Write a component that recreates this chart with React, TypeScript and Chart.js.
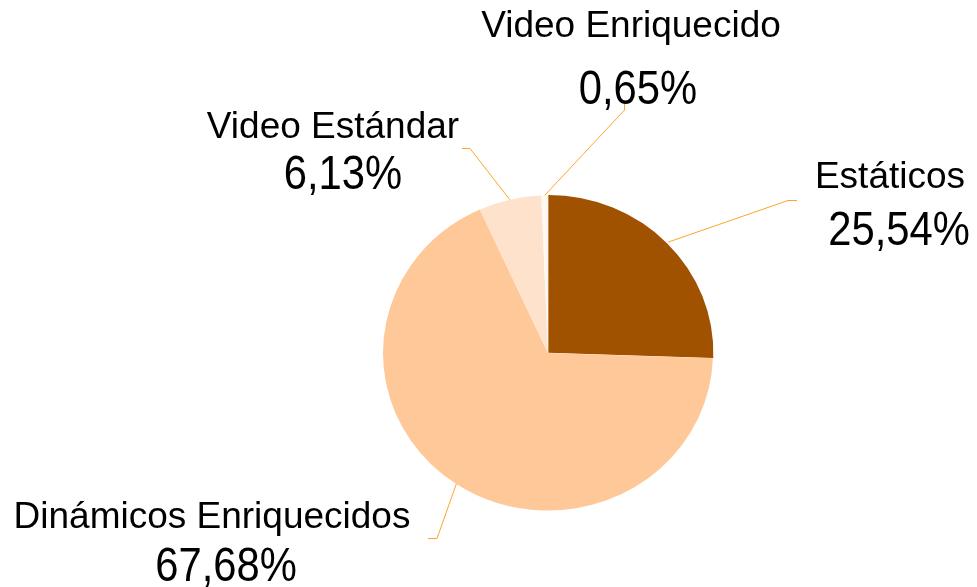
import React, { useEffect, useRef } from "react";
import { Chart, registerables } from "chart.js";

Chart.register(...registerables);

// ---- data ----
const categories = ["Estáticos", "Dinámicos Enriquecidos", "Video Estándar", "Video Enriquecido"];
const shares = [25.54, 67.68, 6.13, 0.65];

// ---- styles / layout ----
const sliceColors = ["#A05200", "#FFC899", "#FFE2CC", "#FFF7F0"];
const sliceOffsets = [2, 0, 0, 0];
const leaderColor = "#FFA42A";
const Y_SCALE = 0.955; // the reference pie is slightly squashed vertically
// per label: elbow point, line end, name centre/baseline, percentage centre/baseline
const labelLayout = [
  { elbow: [788, 200.5], end: [797, 200.5], name: [890, 188], pct: [899, 245] },
  { elbow: [437, 538.5], end: [428, 538.5], name: [212, 528], pct: [226, 581] },
  { elbow: [470, 148.5], end: [462, 148.5], name: [333, 138], pct: [343, 189] },
  { elbow: [624.5, 110], end: [624.5, 103], name: [631, 37], pct: [638, 104] },
];
const FONT = '"Liberation Sans", Arial, sans-serif';

const fmt = (v: number) => v.toFixed(2).replace(".", ",") + "%";

const labelPlugin = {
  id: "pieLabels",
  beforeDatasetsDraw(chart: any) {
    const ctx = chart.ctx;
    const a = chart.getDatasetMeta(0).data[0];
    ctx.save();
    ctx.translate(a.x, a.y);
    ctx.scale(1, Y_SCALE);
    ctx.translate(-a.x, -a.y);
  },
  afterDatasetsDraw(chart: any) {
    const ctx = chart.ctx;
    ctx.restore();
    const meta = chart.getDatasetMeta(0);
    meta.data.forEach((arc: any, i: number) => {
      const p = arc.getProps(["x", "y", "startAngle", "endAngle", "outerRadius"], true);
      const mid = (p.startAngle + p.endAngle) / 2;
      const off = sliceOffsets[i];
      const sx = p.x + Math.cos(mid) * (p.outerRadius + off);
      const sy = p.y + Math.sin(mid) * (p.outerRadius + off) * Y_SCALE;
      const L = labelLayout[i];
      ctx.save();
      ctx.strokeStyle = leaderColor;
      ctx.lineWidth = 1;
      ctx.beginPath();
      ctx.moveTo(sx, sy);
      ctx.lineTo(L.elbow[0], L.elbow[1]);
      ctx.lineTo(L.end[0], L.end[1]);
      ctx.stroke();

      ctx.fillStyle = "#000000";
      ctx.textAlign = "center";
      ctx.textBaseline = "alphabetic";
      ctx.font = `37px ${FONT}`;
      ctx.fillText(categories[i], L.name[0], L.name[1]);

      ctx.translate(L.pct[0], L.pct[1]);
      ctx.scale(0.87, 1);
      ctx.font = `48px ${FONT}`;
      ctx.fillText(fmt(shares[i]), 0, 0);
      ctx.restore();
    });
  },
};

export default function App() {
  const ref = useRef<HTMLCanvasElement | null>(null);
  useEffect(() => {
    if (!ref.current) return;
    const chart = new Chart(ref.current, {
      type: "pie",
      data: {
        labels: categories,
        datasets: [
          {
            data: shares,
            backgroundColor: sliceColors,
            borderWidth: 0,
            offset: sliceOffsets,
          },
        ],
      },
      options: {
        responsive: false,
        animation: false,
        devicePixelRatio: 1,
        layout: { padding: { left: 382, right: 263, top: 187, bottom: 68 } },
        plugins: { legend: { display: false }, tooltip: { enabled: false } },
      },
      plugins: [labelPlugin],
    } as any);
    return () => chart.destroy();
  }, []);
  return (
    <div style={{ position: "fixed", left: 0, top: 0, width: 977, height: 587, background: "#fff" }}>
      <canvas ref={ref} width={977} height={587} style={{ width: 977, height: 587, display: "block" }} />
    </div>
  );
}
